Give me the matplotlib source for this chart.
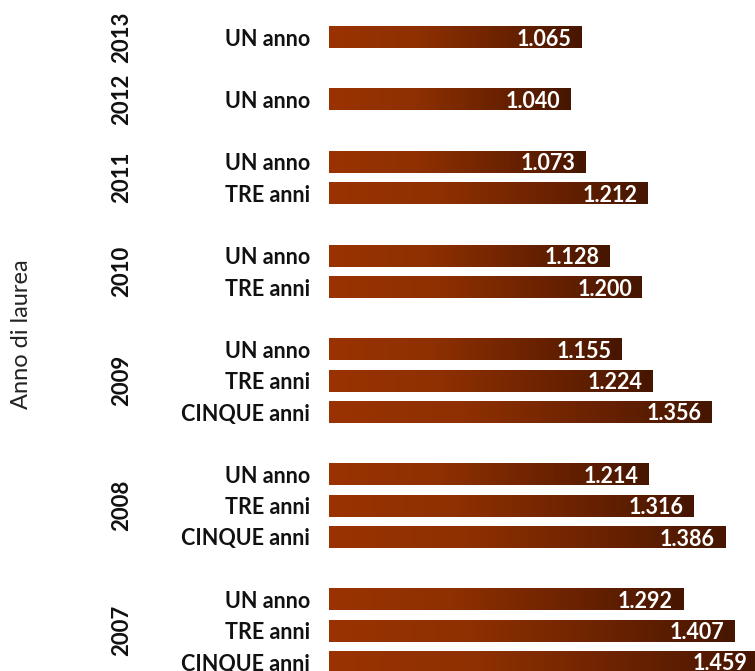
import matplotlib
matplotlib.use("Agg")
import matplotlib.pyplot as plt
import matplotlib.transforms as mtransforms
from matplotlib.colors import LinearSegmentedColormap
import numpy as np

years = ["2013", "2012", "2011", "2010", "2009", "2008", "2007"]
categories = [
    ["UN anno"],
    ["UN anno"],
    ["UN anno", "TRE anni"],
    ["UN anno", "TRE anni"],
    ["UN anno", "TRE anni", "CINQUE anni"],
    ["UN anno", "TRE anni", "CINQUE anni"],
    ["UN anno", "TRE anni", "CINQUE anni"],
]
values = [
    [1065],
    [1040],
    [1073, 1212],
    [1128, 1200],
    [1155, 1224, 1356],
    [1214, 1316, 1386],
    [1292, 1407, 1459],
]
axis_label = "Anno di laurea"

W, H = 755, 671
fig = plt.figure(figsize=(W / 100, H / 100), dpi=100)
x0 = 329
ax = fig.add_axes([x0 / W, 0, (W - x0) / W, 1])
ax.set_axis_off()

px_per_unit = 447.0 / 1000.0
xmin = 500
xmax = xmin + (W - x0) / px_per_unit
row_px = 31.25
first_center = 37
ymin = -first_center / row_px
ymax = (H - first_center) / row_px

cmap = LinearSegmentedColormap.from_list(
    "brown", [(0, "#9a3300"), (0.35, "#8e3000"), (0.7, "#6a2200"), (1, "#461600")])
grad = np.linspace(0, 1, 256).reshape(1, -1)

bar_h = 22 / row_px
pad = 10 / px_per_unit
font = "Lato"
fs = 15.5

trans_year = mtransforms.blended_transform_factory(fig.transFigure, ax.transData)

row = 0
for yr, cats, vals in zip(years, categories, values):
    rows = []
    for c, v in zip(cats, vals):
        ax.imshow(grad, cmap=cmap, aspect="auto", interpolation="bilinear",
                  extent=[xmin, v, row + bar_h / 2, row - bar_h / 2], zorder=2)
        ax.text(v - pad, row, f"{v/1000:.3f}", color="white", fontweight="bold",
                fontsize=fs, family=font, ha="right", va="center_baseline", zorder=3)
        ax.text(310 / W, row, c, transform=trans_year, ha="right", va="center_baseline",
                fontsize=fs, fontweight="bold", family=font, color="#111111")
        rows.append(row)
        row += 1
    ax.text(122 / W, np.mean(rows), yr, transform=trans_year, rotation=90,
            ha="center", va="center", fontsize=16, fontweight="bold", family=font,
            color="#111111")
    row += 1

ax.set_xlim(xmin, xmax)
ax.set_ylim(ymax, ymin)

fig.text(22 / W, 1 - 334 / H, axis_label, rotation=90, ha="center", va="center",
         fontsize=17, family=font, color="#222222")

fig.savefig("out.png", dpi=100)
